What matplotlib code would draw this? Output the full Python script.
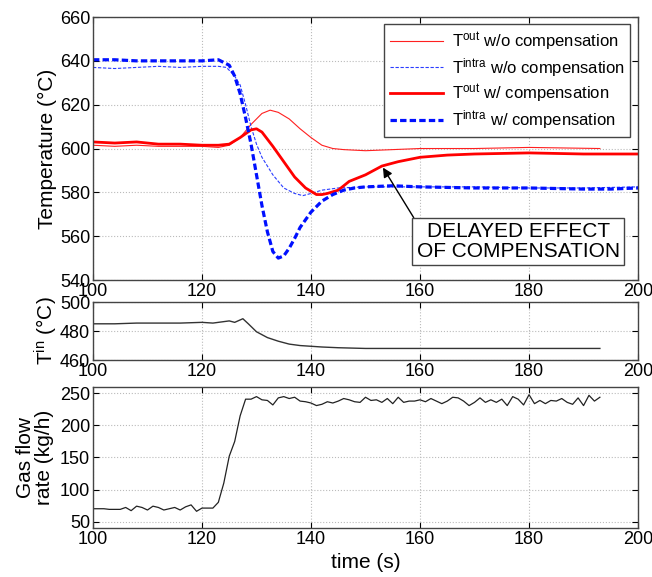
import numpy as np
import matplotlib.pyplot as plt

plt.rcParams['font.family'] = ['Liberation Sans', 'DejaVu Sans']
plt.rcParams['mathtext.default'] = 'regular'

# top panel: temperatures
t_out_wo = [100, 104, 108, 112, 116, 120, 123, 125, 127, 129, 131, 132.5, 134, 136, 138, 140, 142, 144, 146, 150, 155, 160, 170, 180, 193]
T_out_wo = [601.5, 601, 601.5, 601, 601, 601, 600.5, 601.5, 605, 611, 616, 617.5, 616.5, 613.5, 609, 605, 601.5, 600, 599.5, 599, 599.5, 600, 600, 600.5, 600]

t_intra_wo = [100, 104, 108, 112, 116, 120, 123, 124.5, 126, 127, 128, 129, 130, 131, 133, 135, 137, 138.5, 140, 142, 145, 150, 160, 170, 180, 190, 200]
T_intra_wo = [637, 636.5, 637, 637.5, 637, 637.5, 637.5, 637, 633, 629, 620, 610, 602, 596, 588, 582, 579.5, 578.5, 579.5, 581, 582, 582.5, 582.5, 582.5, 582, 582, 582.5]

t_out_w = [100, 104, 108, 112, 116, 120, 123, 125, 127, 129, 130, 131, 133, 135, 137, 139, 141, 142, 143, 145, 147, 150, 153, 156, 160, 165, 170, 180, 190, 195, 200]
T_out_w = [603, 602.5, 603, 602, 602, 601.5, 601.5, 602, 605, 608.5, 609, 607.5, 601, 594, 587, 582, 579, 579, 579.5, 581, 585, 588, 592, 594, 596, 597, 597.5, 598, 597.5, 597.5, 597.5]

t_intra_w = [100, 104, 108, 112, 116, 120, 123, 125, 126, 127, 128, 129, 130, 131, 132, 133, 134, 135, 136, 137, 138, 140, 142, 144, 146, 148, 150, 155, 160, 170, 180, 190, 195, 200]
T_intra_w = [640.5, 640.5, 640, 640, 640, 640, 640.5, 638, 633, 625, 614, 602, 588, 574, 562, 553, 550, 551, 554.5, 559, 564, 571, 576, 579, 581, 582, 582.5, 583, 582.5, 582, 582, 581.5, 581.5, 582]

# middle panel: inlet temperature
t_in = [100, 104, 108, 112, 116, 120, 122, 123, 125, 126, 127.5, 128.5, 130, 132, 134, 136, 138, 140, 142, 145, 150, 155, 160, 170, 180, 193]
T_in = [485, 485, 485.5, 485.5, 485.5, 486, 485.5, 486, 487, 486, 488.5, 485, 479.5, 475.5, 473, 471, 470, 469.5, 469, 468.5, 468, 468, 468, 468, 468, 468]

# bottom panel: gas flow rate, one value per second from 100 s
gas = [70, 70, 70, 69, 69, 69, 72, 67, 74, 72, 68, 74, 72, 68, 70, 72, 68, 73, 76, 66,
       71, 71, 71, 80, 110, 152, 175, 215, 241, 241, 245, 240, 239, 232, 243, 245, 242, 244, 238, 237,
       235, 231, 233, 237, 235, 238, 242, 240, 237, 236, 244, 239, 240, 236, 242, 234, 244, 236, 238, 238,
       240, 237, 242, 238, 234, 238, 244, 243, 238, 231, 236, 243, 236, 240, 236, 241, 231, 245, 241, 232,
       248, 234, 239, 234, 239, 238, 242, 236, 233, 243, 231, 247, 238, 244]
t_gas = np.arange(100, 100 + len(gas))

fig = plt.figure(figsize=(6.52, 5.77), dpi=100)
ax1 = fig.add_axes([0.1426, 0.5147, 0.836, 0.4558])
ax2 = fig.add_axes([0.1426, 0.376, 0.836, 0.1005])
ax3 = fig.add_axes([0.1426, 0.085, 0.836, 0.2443])

ax1.plot(t_out_wo, T_out_wo, color='#ff2020', lw=0.8, label=r'$T^{out}$ w/o compensation')
ax1.plot(t_intra_wo, T_intra_wo, color='#2a3cff', lw=0.8, ls='--', dashes=(3, 1.5),
         label=r'$T^{intra}$ w/o compensation')
ax1.plot(t_out_w, T_out_w, color='#ff0000', lw=2.0, label=r'$T^{out}$ w/ compensation')
ax1.plot(t_intra_w, T_intra_w, color='#0010ff', lw=2.3, ls='--', dashes=(2, 1),
         label=r'$T^{intra}$ w/ compensation')
ax1.set_ylim(540, 660)
ax1.set_yticks(np.arange(540, 661, 20))
ax1.set_ylabel('Temperature (°C)', fontsize=15, labelpad=2)
leg = ax1.legend(loc='upper right', bbox_to_anchor=(0.986, 0.973), borderaxespad=0,
                 fontsize=12, fancybox=False, framealpha=1, edgecolor='#444444',
                 handlelength=3.2, handletextpad=0.5, borderpad=0.35, labelspacing=0.2)
leg.get_frame().set_linewidth(1.0)

ax1.annotate('DELAYED EFFECT\nOF COMPENSATION', xy=(153.2, 591.3), xytext=(178, 557.5),
             fontsize=15, ha='center', va='center', linespacing=1.05,
             bbox=dict(boxstyle='square,pad=0.2', fc='white', ec='#444444', lw=1.0),
             arrowprops=dict(arrowstyle='-|>', color='black', lw=1.0, shrinkA=0, shrinkB=0,
                             relpos=(0.0, 1.0), mutation_scale=14))

ax2.plot(t_in, T_in, color='#333333', lw=1.0)
ax2.set_ylim(460, 500)
ax2.set_yticks([460, 480, 500])
ax2.set_ylabel(r'$T^{in}$ (°C)', fontsize=15, labelpad=0)

ax3.plot(t_gas, gas, color='#222222', lw=0.9)
ax3.set_ylim(40, 260)
ax3.set_yticks([50, 100, 150, 200, 250])
ax3.set_ylabel('Gas flow\nrate (kg/h)', fontsize=15, labelpad=4, linespacing=1.0)
ax3.set_xlabel('time (s)', fontsize=15, labelpad=4)

for ax in (ax1, ax2, ax3):
    ax.set_xlim(100, 200)
    ax.set_xticks(np.arange(100, 201, 20))
    ax.grid(True, color='#bbbbbb', ls=':', lw=0.8)
    ax.tick_params(direction='in', top=True, right=True, labelsize=13, length=4, pad=2)
    for spine in ax.spines.values():
        spine.set_color('#444444')
        spine.set_linewidth(1.0)

fig.savefig('out.png', dpi=100)
